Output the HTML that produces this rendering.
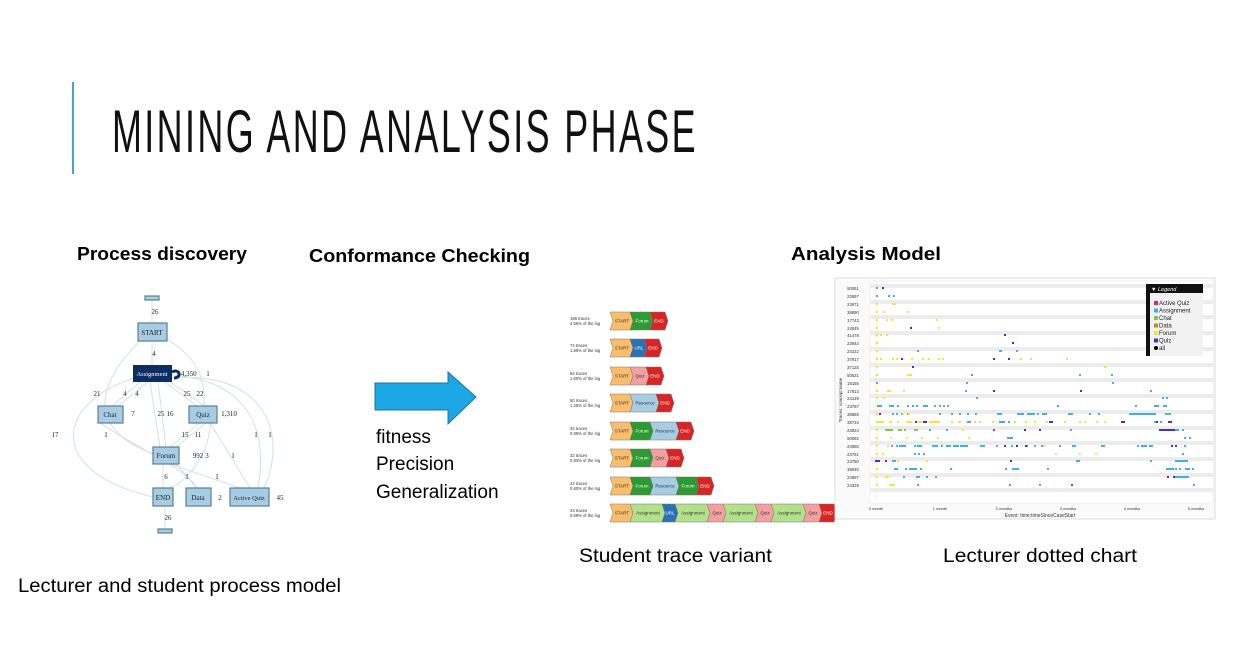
<!DOCTYPE html>
<html><head><meta charset="utf-8"><style>
html,body{margin:0;padding:0;background:#fff;}
svg{display:block;font-family:"Liberation Sans",sans-serif;}
</style></head><body>
<svg width="1235" height="657" viewBox="0 0 1235 657" xmlns="http://www.w3.org/2000/svg">
<defs>
<polygon id="c20" points="0,-9 20,-9 23,0 20,9 0,9 3,0" stroke="#777" stroke-width="0.5"/>
<polygon id="c15" points="0,-9 15,-9 18,0 15,9 0,9 3,0" stroke="#777" stroke-width="0.5"/>
<polygon id="c14" points="0,-9 14,-9 17,0 14,9 0,9 3,0" stroke="#777" stroke-width="0.5"/>
<polygon id="c13" points="0,-9 13,-9 16,0 13,9 0,9 3,0" stroke="#777" stroke-width="0.5"/>
<polygon id="c16" points="0,-9 16,-9 19,0 16,9 0,9 3,0" stroke="#777" stroke-width="0.5"/>
<polygon id="c26" points="0,-9 26,-9 29,0 26,9 0,9 3,0" stroke="#777" stroke-width="0.5"/>
<polygon id="c32" points="0,-9 32,-9 35,0 32,9 0,9 3,0" stroke="#777" stroke-width="0.5"/>
</defs>
<rect width="1235" height="657" fill="#fff"/>
<rect x="72" y="82" width="2" height="92" fill="#4aa3c8"/>
<text x="112" y="152" font-size="60" textLength="586" lengthAdjust="spacingAndGlyphs" fill="#111" letter-spacing="4">MINING AND ANALYSIS PHASE</text>

<text x="77" y="260" font-size="18" font-weight="bold" textLength="170" lengthAdjust="spacingAndGlyphs">Process discovery</text>
<text x="309" y="262" font-size="18" font-weight="bold" textLength="221" lengthAdjust="spacingAndGlyphs">Conformance Checking</text>
<text x="791" y="260" font-size="18" font-weight="bold" textLength="150" lengthAdjust="spacingAndGlyphs">Analysis Model</text>
<text x="18" y="592" font-size="19" textLength="323" lengthAdjust="spacingAndGlyphs">Lecturer and student process model</text>
<text x="579" y="562" font-size="19" textLength="193" lengthAdjust="spacingAndGlyphs">Student trace variant</text>
<text x="943" y="562" font-size="19" textLength="194" lengthAdjust="spacingAndGlyphs">Lecturer dotted chart</text>
<text x="376" y="443" font-size="19">fitness</text>
<text x="376" y="470" font-size="19">Precision</text>
<text x="376" y="498" font-size="19">Generalization</text>

<polygon points="375,383 448,383 448,372 476,397 448,424 448,410 375,410" fill="#1aa7e3" stroke="#2a6f9a" stroke-width="1"/>

<!-- process model -->
<g fill="none" stroke="#cfe0ea" stroke-width="1">
<path d="M152,299 V323"/><path d="M152,341 V365"/>
<path d="M140,341 C100,380 80,430 160,456"/>
<path d="M166,338 C200,360 205,380 204,406"/>
<path d="M135,378 C60,400 40,470 153,497"/>
<path d="M140,382 L112,406"/><path d="M148,382 L118,406"/>
<path d="M150,382 L160,447"/><path d="M158,382 L166,447"/>
<path d="M165,382 L197,406"/><path d="M170,382 L205,406"/>
<path d="M172,375 C240,380 270,420 258,488"/><path d="M172,378 C260,370 290,430 264,488"/>
<path d="M200,423 L170,447"/><path d="M206,423 L176,447"/>
<path d="M210,423 C210,450 190,480 170,488"/>
<path d="M100,423 C140,450 190,470 195,488"/>
<path d="M170,464 L240,488"/><path d="M176,464 L198,488"/>
<path d="M250,488 L210,423"/><path d="M163,464 V488"/><path d="M165,506 V529"/>
</g>
<path d="M172,372 c8,-4 10,6 2,6" fill="none" stroke="#0b2d63" stroke-width="3"/>
<g stroke="#5a7f94" stroke-width="1.2" fill="#a6cde3">
<rect x="145" y="296" width="14" height="4"/>
<rect x="138" y="323" width="29" height="18"/>
<rect x="98" y="406" width="25" height="17"/>
<rect x="189" y="406" width="28" height="17"/>
<rect x="153" y="447" width="26" height="17"/>
<rect x="153" y="488" width="20" height="18"/>
<rect x="186" y="488" width="25" height="18"/>
<rect x="230" y="488" width="39" height="18"/>
<rect x="158" y="529" width="14" height="4"/>
</g>
<rect x="133" y="365" width="39" height="17" fill="#0b2d63"/>
<g font-family="Liberation Serif,serif" font-size="7" fill="#222" text-anchor="middle">
<text x="152" y="335">START</text>
<text x="152" y="376" fill="#fff" font-size="6.5">Assignment</text>
<text x="110" y="417">Chat</text><text x="203" y="417">Quiz</text>
<text x="166" y="458">Forum</text><text x="163" y="500">END</text>
<text x="198" y="500">Data</text><text x="249" y="500" font-size="6.5">Active Quiz</text>
<text x="155" y="314">26</text><text x="154" y="356">4</text>
<text x="187" y="376">14,350</text><text x="208" y="376">1</text>
<text x="97" y="396">21</text><text x="125" y="396">4</text><text x="137" y="396">4</text>
<text x="187" y="396">25</text><text x="200" y="396">22</text>
<text x="133" y="416">7</text><text x="161" y="416">25</text><text x="170" y="416">16</text>
<text x="229" y="416">1,310</text>
<text x="55" y="437">17</text><text x="106" y="437">1</text>
<text x="185" y="437">15</text><text x="198" y="437">11</text>
<text x="256" y="437">1</text><text x="270" y="437">1</text>
<text x="198" y="458">992</text><text x="207" y="458">3</text><text x="233" y="458">1</text>
<text x="166" y="479">6</text><text x="187" y="479">1</text><text x="217" y="479">1</text>
<text x="220" y="500">2</text><text x="280" y="500">45</text>
<text x="168" y="520">26</text>
</g>

<!-- trace variants -->
<g font-size="4.2" fill="#333">
<text x="570" y="320">186 traces</text><text x="570" y="325">4.66% of the log</text>
<text x="570" y="347">74 traces</text><text x="570" y="352">1.85% of the log</text>
<text x="570" y="375">64 traces</text><text x="570" y="380">1.60% of the log</text>
<text x="570" y="402">50 traces</text><text x="570" y="407">1.25% of the log</text>
<text x="570" y="430">34 traces</text><text x="570" y="435">0.85% of the log</text>
<text x="570" y="457">33 traces</text><text x="570" y="462">0.83% of the log</text>
<text x="570" y="485">24 traces</text><text x="570" y="490">0.60% of the log</text>
<text x="570" y="512">23 traces</text><text x="570" y="517">0.58% of the log</text>
</g>
<g>
<use href="#c20" x="610" y="321" fill="#f9bd6c"/><use href="#c20" x="630" y="321" fill="#2e9a33"/><use href="#c15" x="650" y="321" fill="#d92424"/>
<use href="#c20" x="610" y="348" fill="#f9bd6c"/><use href="#c14" x="630" y="348" fill="#2a72b5"/><use href="#c15" x="644" y="348" fill="#d92424"/>
<use href="#c20" x="610" y="376" fill="#f9bd6c"/><use href="#c16" x="630" y="376" fill="#f3a0a0"/><use href="#c15" x="646" y="376" fill="#d92424"/>
<use href="#c20" x="610" y="403" fill="#f9bd6c"/><use href="#c26" x="630" y="403" fill="#a6cde3"/><use href="#c15" x="656" y="403" fill="#d92424"/>
<use href="#c20" x="610" y="431" fill="#f9bd6c"/><use href="#c20" x="630" y="431" fill="#2e9a33"/><use href="#c26" x="650" y="431" fill="#a6cde3"/><use href="#c15" x="676" y="431" fill="#d92424"/>
<use href="#c20" x="610" y="458" fill="#f9bd6c"/><use href="#c20" x="630" y="458" fill="#2e9a33"/><use href="#c16" x="650" y="458" fill="#f3a0a0"/><use href="#c15" x="666" y="458" fill="#d92424"/>
<use href="#c20" x="610" y="486" fill="#f9bd6c"/><use href="#c20" x="630" y="486" fill="#2e9a33"/><use href="#c26" x="650" y="486" fill="#a6cde3"/><use href="#c20" x="676" y="486" fill="#2e9a33"/><use href="#c15" x="696" y="486" fill="#d92424"/>
<use href="#c20" x="610" y="513" fill="#f9bd6c"/><use href="#c32" x="630" y="513" fill="#b3e08a"/><use href="#c13" x="662" y="513" fill="#2a72b5"/><use href="#c32" x="675" y="513" fill="#b3e08a"/><use href="#c16" x="707" y="513" fill="#f3a0a0"/><use href="#c32" x="723" y="513" fill="#b3e08a"/><use href="#c16" x="755" y="513" fill="#f3a0a0"/><use href="#c32" x="771" y="513" fill="#b3e08a"/><use href="#c16" x="803" y="513" fill="#f3a0a0"/><use href="#c15" x="819" y="513" fill="#d92424"/>
</g>
<g font-size="4.5" text-anchor="middle" fill="#fff">
<text x="622" y="322.5" fill="#333">START</text><text x="642" y="322.5">Forum</text><text x="659" y="322.5">END</text>
<text x="622" y="349.5" fill="#333">START</text><text x="639" y="349.5">URL</text><text x="653" y="349.5">END</text>
<text x="622" y="377.5" fill="#333">START</text><text x="640" y="377.5" fill="#333">Quiz</text><text x="655" y="377.5">END</text>
<text x="622" y="404.5" fill="#333">START</text><text x="645" y="404.5" fill="#333">Resource</text><text x="665" y="404.5">END</text>
<text x="622" y="432.5" fill="#333">START</text><text x="642" y="432.5">Forum</text><text x="665" y="432.5" fill="#333">Resource</text><text x="685" y="432.5">END</text>
<text x="622" y="459.5" fill="#333">START</text><text x="642" y="459.5">Forum</text><text x="660" y="459.5" fill="#333">Quiz</text><text x="675" y="459.5">END</text>
<text x="622" y="487.5" fill="#333">START</text><text x="642" y="487.5">Forum</text><text x="665" y="487.5" fill="#333">Resource</text><text x="688" y="487.5">Forum</text><text x="705" y="487.5">END</text>
<text x="622" y="514.5" fill="#333">START</text><text x="648" y="514.5" fill="#333">Assignment</text><text x="670" y="514.5">URL</text><text x="693" y="514.5" fill="#333">Assignment</text><text x="717" y="514.5" fill="#333">Quiz</text><text x="741" y="514.5" fill="#333">Assignment</text><text x="765" y="514.5" fill="#333">Quiz</text><text x="789" y="514.5" fill="#333">Assignment</text><text x="813" y="514.5" fill="#333">Quiz</text><text x="828" y="514.5">END</text>
</g>

<!-- dotted chart -->
<rect x="835" y="278" width="380" height="241" fill="#fafafa" stroke="#ddd"/>
<rect x="870" y="281" width="343" height="222" fill="#fff" stroke="#e6e6e6" stroke-width="0.5"/>
<g fill="#ececec">
<rect x="870" y="284" width="343" height="4"/><rect x="870" y="300" width="343" height="4"/><rect x="870" y="315" width="343" height="4"/><rect x="870" y="331" width="343" height="4"/><rect x="870" y="347" width="343" height="4"/><rect x="870" y="363" width="343" height="4"/><rect x="870" y="378" width="343" height="4"/><rect x="870" y="394" width="343" height="4"/><rect x="870" y="410" width="343" height="4"/><rect x="870" y="426" width="343" height="4"/><rect x="870" y="441" width="343" height="4"/><rect x="870" y="457" width="343" height="4"/><rect x="870" y="473" width="343" height="4"/><rect x="870" y="488" width="343" height="4"/>
</g>
<line x1="876" y1="284" x2="876" y2="500" stroke="#eee8b0" stroke-width="0.6"/>
<g font-size="4.2" text-anchor="middle" fill="#333">
<text x="853" y="290">50061</text><text x="853" y="298">23697</text><text x="853" y="306">23971</text><text x="853" y="314">38890</text><text x="853" y="322">17743</text><text x="853" y="330">24045</text><text x="853" y="337">41478</text><text x="853" y="345">23943</text><text x="853" y="353">24222</text><text x="853" y="361">37917</text><text x="853" y="369">37125</text><text x="853" y="377">50521</text><text x="853" y="385">18155</text><text x="853" y="393">17813</text><text x="853" y="400">24129</text><text x="853" y="408">23787</text><text x="853" y="416">38869</text><text x="853" y="424">38734</text><text x="853" y="432">23924</text><text x="853" y="440">50092</text><text x="853" y="448">23985</text><text x="853" y="456">23761</text><text x="853" y="463">23750</text><text x="853" y="471">38846</text><text x="853" y="479">23687</text><text x="853" y="487">24329</text>
</g>
<text x="842" y="400" font-size="4.5" fill="#333" transform="rotate(-90 842 400)" text-anchor="middle">Traces: concept:name</text>
<path fill="#3db1e2" d="M876 287h2v2h-2z M876 295h2v2h-2zM888 295h2v2h-2zM893 295h2v2h-2z M917 350h2v2h-2zM999 350h3v2h-3zM1016 350h2v2h-2z M972 374h0z M1079 374h2v2h-2zM1111 374h2v2h-2z M876 382h2v2h-2zM966 382h2v2h-2zM1112 382h2v2h-2z M965 390h2v2h-2zM1150 390h2v2h-2z M976 397h2v2h-2zM1162 397h2v2h-2zM1166 397h2v2h-2z
M877 405h5v2h-5zM889 405h5v2h-5zM897 405h2v2h-2zM907 405h2v2h-2zM912 405h2v2h-2zM916 405h2v2h-2zM923 405h5v2h-5zM934 405h2v2h-2zM939 405h2v2h-2zM943 405h2v2h-2zM947 405h2v2h-2zM1057 405h2v2h-2zM1135 405h2v2h-2zM1154 405h5v2h-5zM1163 405h4v2h-4z
M892 413h2v2h-2zM896 413h2v2h-2zM901 413h2v2h-2zM907 413h2v2h-2zM939 413h2v2h-2zM951 413h2v2h-2zM959 413h2v2h-2zM967 413h2v2h-2zM975 413h2v2h-2zM997 413h5v2h-5zM1017 413h7v2h-7zM1027 413h8v2h-8zM1037 413h2v2h-2zM1042 413h5v2h-5zM1068 413h5v2h-5zM1089 413h2v2h-2zM1098 413h2v2h-2zM1129 413h27v2h-27zM1165 413h6v2h-6z
M967 421h4v2h-4zM999 421h6v2h-6zM1008 421h2v2h-2zM1014 421h2v2h-2zM1154 421h2v2h-2zM1160 421h2v2h-2zM1168 421h2v2h-2z
M929 429h2v2h-2zM946 429h2v2h-2zM1070 429h2v2h-2zM1175 429h2v2h-2zM1177 429h2v2h-2zM1182 429h2v2h-2z
M1007 437h6v2h-6zM1184 437h2v2h-2zM1189 437h2v2h-2z
M891 445h2v2h-2zM896 445h2v2h-2zM899 445h7v2h-7zM914 445h2v2h-2zM917 445h5v2h-5zM932 445h6v2h-6zM941 445h2v2h-2zM946 445h5v2h-5zM953 445h6v2h-6zM960 445h8v2h-8zM980 445h5v2h-5zM996 445h2v2h-2zM1011 445h2v2h-2zM1025 445h3v2h-3zM1034 445h2v2h-2zM1041 445h2v2h-2zM1059 445h2v2h-2zM1072 445h4v2h-4zM1101 445h4v2h-4zM1137 445h2v2h-2zM1141 445h6v2h-6zM1149 445h4v2h-4zM1184 445h2v2h-2z
M914 453h2v2h-2zM918 453h2v2h-2zM923 453h2v2h-2zM1182 453h2v2h-2z
M892 460h4v2h-4zM1076 460h4v2h-4zM1150 460h2v2h-2zM1175 460h13v2h-13z
M894 468h4v2h-4zM905 468h2v2h-2zM909 468h8v2h-8zM920 468h2v2h-2zM950 468h2v2h-2zM1005 468h2v2h-2zM1012 468h7v2h-7zM1047 468h2v2h-2zM1166 468h8v2h-8zM1175 468h2v2h-2zM1179 468h2v2h-2zM1169 468h2v2h-2zM1185 468h5v2h-5zM1192 468h2v2h-2z
M903 476h2v2h-2zM916 476h4v2h-4zM926 476h2v2h-2zM935 476h2v2h-2zM1175 476h14v2h-14z M917 484h2v2h-2zM1009 484h2v2h-2zM1039 484h2v2h-2zM1193 484h2v2h-2z"/>
<path fill="#f0e63a" d="M876 303h2v2h-2zM892 303h4v2h-4z M876 311h2v2h-2zM883 311h2v2h-2zM907 311h2v2h-2z M876 319h2v2h-2zM886 319h2v2h-2zM891 319h2v2h-2zM936 319h2v2h-2z M876 327h2v2h-2zM938 327h2v2h-2z M876 334h2v2h-2zM880 334h2v2h-2zM886 334h2v2h-2z M876 342h2v2h-2z M876 350h2v2h-2z
M876 358h2v2h-2zM880 358h2v2h-2zM892 358h2v2h-2zM896 358h2v2h-2zM911 358h2v2h-2zM922 358h2v2h-2zM928 358h2v2h-2zM938 358h2v2h-2zM942 358h2v2h-2zM1020 358h2v2h-2zM1030 358h2v2h-2zM1066 358h2v2h-2z
M876 366h2v2h-2zM1104 366h2v2h-2z M876 374h2v2h-2zM907 374h5v2h-5z M876 390h2v2h-2zM887 390h4v2h-4zM903 390h2v2h-2z M876 397h2v2h-2zM883 397h2v2h-2z M876 413h2v2h-2zM902 413h2v2h-2zM908 413h2v2h-2z
M876 421h8v2h-8zM889 421h3v2h-3zM897 421h2v2h-2zM906 421h6v2h-6zM918 421h4v2h-4zM929 421h8v2h-8zM937 421h3v2h-3zM951 421h2v2h-2zM958 421h3v2h-3zM974 421h2v2h-2zM979 421h2v2h-2zM992 421h2v2h-2zM1014 421h2v2h-2zM1025 421h2v2h-2zM1034 421h2v2h-2zM1046 421h2v2h-2zM1064 421h2v2h-2zM1079 421h2v2h-2zM1084 421h2v2h-2zM1096 421h2v2h-2zM1104 421h2v2h-2z
M876 429h2v2h-2zM962 429h2v2h-2z M876 437h2v2h-2zM890 437h2v2h-2zM906 437h2v2h-2zM921 437h2v2h-2zM937 437h2v2h-2zM968 437h2v2h-2z M876 445h2v2h-2zM887 445h2v2h-2zM1043 445h2v2h-2z M876 453h2v2h-2zM882 453h2v2h-2zM1055 453h2v2h-2zM1079 453h2v2h-2zM1095 453h2v2h-2z M897 460h2v2h-2zM926 460h2v2h-2z M876 468h2v2h-2z M876 476h2v2h-2zM885 476h4v2h-4z M876 484h2v2h-2zM889 484h6v2h-6z"/>
<path fill="#4a2cc4" d="M882 287h2v2h-2z M910 327h2v2h-2z M1004 334h2v2h-2z M1012 342h2v2h-2z M901 358h2v2h-2zM993 358h2v2h-2zM1008 358h2v2h-2z M912 366h2v2h-2z M993 390h2v2h-2zM1080 390h2v2h-2z M879 413h2v2h-2z M915 421h2v2h-2zM923 421h4v2h-4zM1049 421h4v2h-4zM1121 421h4v2h-4zM1156 421h2v2h-2zM1168 421h4v2h-4z M1024 429h2v2h-2zM1039 429h2v2h-2zM1159 429h16v2h-16z M1004 445h2v2h-2zM1016 445h2v2h-2zM1025 445h2v2h-2zM1171 445h2v2h-2zM1175 445h2v2h-2z M875 460h5v2h-5zM885 460h2v2h-2zM1010 460h2v2h-2z M1167 476h2v2h-2zM1173 476h2v2h-2z"/>
<path fill="#7ac94a" d="M885 429h8v2h-8zM898 429h4v2h-4zM904 429h2v2h-2zM914 429h4v2h-4zM1167 413h2v2h-2z"/>
<path fill="#c08a2a" d="M971 374h2v2h-2z"/>
<path fill="#d4267f" d="M993 429h2v2h-2zM1071 484h2v2h-2z"/>
<rect x="1146" y="284" width="57" height="72" fill="#111"/><rect x="1150" y="293" width="53" height="63" fill="#f2f2f2"/>
<text x="1151" y="291" font-size="5.5" fill="#fff" font-style="italic">▼ Legend</text>
<g font-size="6" fill="#222">
<rect x="1154" y="301" width="4" height="4" fill="#d4267f"/><text x="1159" y="305">Active Quiz</text>
<rect x="1154" y="308.5" width="4" height="4" fill="#3db1e2"/><text x="1159" y="312.5">Assignment</text>
<rect x="1154" y="316" width="4" height="4" fill="#7ac94a"/><text x="1159" y="320">Chat</text>
<rect x="1154" y="323.5" width="4" height="4" fill="#c08a2a"/><text x="1159" y="327.5">Data</text>
<rect x="1154" y="331" width="4" height="4" fill="#f0e63a"/><text x="1159" y="335">Forum</text>
<rect x="1154" y="338.5" width="4" height="4" fill="#4a2cc4"/><text x="1159" y="342.5">Quiz</text>
<circle cx="1156" cy="348" r="2" fill="#000"/><text x="1159" y="350">all</text>
</g>
<g font-size="4" text-anchor="middle" fill="#333">
<text x="876" y="510">0 month</text><text x="940" y="510">1 month</text><text x="1004" y="510">2 months</text><text x="1068" y="510">3 months</text><text x="1132" y="510">4 months</text><text x="1196" y="510">5 months</text>
</g>
<text x="1040" y="517" font-size="5" text-anchor="middle" fill="#333">Event: time:timeSinceCaseStart</text>
</svg>
</body></html>
